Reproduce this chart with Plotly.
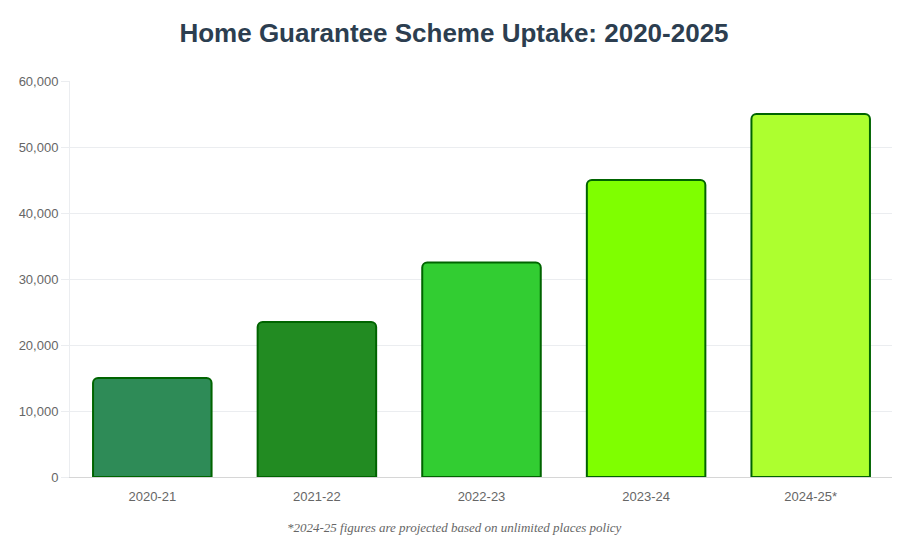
import plotly.graph_objects as go

categories = ["2020-21", "2021-22", "2022-23", "2023-24", "2024-25*"]
uptake = [15000, 23500, 32500, 45000, 55000]
bar_colors = ["#2E8B57", "#228B22", "#32CD32", "#7FFF00", "#ADFF2F"]
border_color = "#006400"
tick_vals = [0, 10000, 20000, 30000, 40000, 50000, 60000]
tick_text = ["0", "10,000", "20,000", "30,000", "40,000", "50,000", "60,000"]

title_text = "Home Guarantee Scheme Uptake: 2020-2025"
footnote = "*2024-25 figures are projected based on unlimited places policy"

W, H = 892, 541
ML, MR, MT, MB = 62, 7, 73, 72
PH = H - MT - MB
PW = W - ML - MR

fig = go.Figure()
fig.add_trace(go.Bar(
    x=categories,
    y=uptake,
    marker=dict(color=bar_colors, line=dict(color=border_color, width=2), cornerradius=5),
    width=0.72,
    hoverinfo="skip",
))

fig.update_layout(
    width=W, height=H,
    margin=dict(l=ML, r=MR, t=MT, b=MB),
    paper_bgcolor="white",
    plot_bgcolor="white",
    showlegend=False,
    font=dict(family="Helvetica Neue, Helvetica, Arial, Liberation Sans, sans-serif", color="#666666", size=13),
    title=dict(
        text="<b>" + title_text + "</b>",
        x=0.5, xanchor="center",
        y=1 - 25 / H, yanchor="middle",
        font=dict(size=26, color="#2c3e50"),
    ),
    xaxis=dict(
        type="category",
        showgrid=False,
        showline=True, linecolor="#d6d6d6", linewidth=1,
        ticks="", tickfont=dict(size=13, color="#666666"),
        ticklabelstandoff=7,
        fixedrange=True,
    ),
    yaxis=dict(
        range=[0, 60000],
        tickvals=tick_vals, ticktext=tick_text,
        showgrid=True, gridcolor="#ebedf0", gridwidth=1,
        showline=True, linecolor="#ebedf0", linewidth=1,
        ticks="outside", ticklen=8, tickcolor="#ebedf0",
        tickfont=dict(size=13, color="#666666"),
        zeroline=False,
        fixedrange=True,
    ),
    annotations=[dict(
        text="<i>" + footnote + "</i>",
        xref="paper", yref="paper",
        x=(W / 2 - ML) / PW, y=-(519 - (MT + PH)) / PH,
        xanchor="center", yanchor="middle",
        showarrow=False,
        font=dict(family="Times New Roman, Liberation Serif, serif", size=13, color="#666666"),
    )],
)

fig.write_html("out.html", config={"displayModeBar": False})
